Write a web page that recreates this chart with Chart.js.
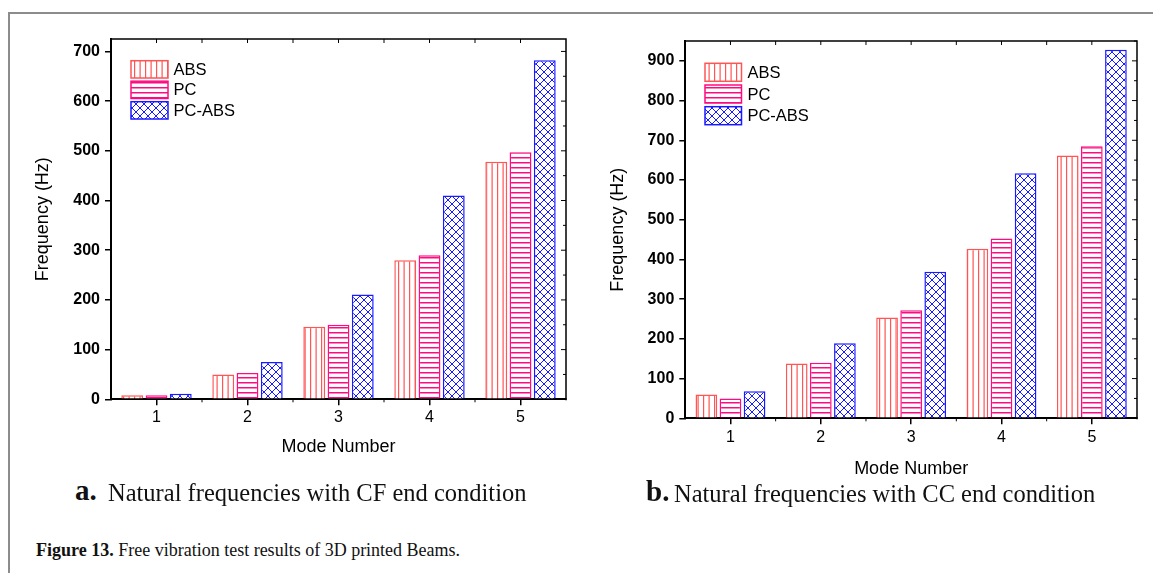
<!DOCTYPE html>
<html><head><meta charset="utf-8">
<script src="https://cdn.jsdelivr.net/npm/chart.js@4.4.0/dist/chart.umd.min.js"></script>
<style>
html,body{margin:0;padding:0;background:#fff;width:1153px;height:573px;overflow:hidden;position:relative;}
#frame{position:absolute;left:8px;top:12px;width:1200px;height:600px;border-top:2px solid #8c8c8c;border-left:2px solid #8c8c8c;}
canvas{position:absolute;}
.cap{position:absolute;font-family:"Liberation Serif","Times New Roman",serif;color:#111;white-space:nowrap;line-height:1;}
</style></head>
<body>
<div id="frame"></div>
<canvas id="c1" width="580" height="470" style="left:0px;top:0px"></canvas>
<canvas id="c2" width="573" height="490" style="left:580px;top:0px"></canvas>
<div class="cap" style="left:75px;top:476px;font-size:29px;font-weight:bold">a.</div>
<div class="cap" style="left:108px;top:480.5px;font-size:24.5px">Natural frequencies with CF end condition</div>
<div class="cap" style="left:646px;top:477px;font-size:29px;font-weight:bold">b.</div>
<div class="cap" style="left:674px;top:481.5px;font-size:24.5px">Natural frequencies with CC end condition</div>
<div class="cap" style="left:36px;top:541px;font-size:18px"><b>Figure 13.</b> Free vibration test results of 3D printed Beams.</div>
<script>
// ---- data ----
const categories = ['1', '2', '3', '4', '5'];
const seriesNames = ['ABS', 'PC', 'PC-ABS'];
const cfABS   = [8, 50, 146, 280, 478];
const cfPC    = [8, 53, 150, 290, 497];
const cfPCABS = [11, 75, 211, 410, 682];
const ccABS   = [60, 138, 254, 427, 662];
const ccPC    = [50, 140, 272, 453, 685];
const ccPCABS = [68, 189, 369, 617, 928];
const yTitle = 'Frequency (Hz)';
const xTitle = 'Mode Number';

// ---- styling ----
const colABS = '#ff5555', colPC = '#ff0a80', colPCABS = '#1a1aff';
const FONT = '"Liberation Sans", Arial, sans-serif';

function makePattern(kind, color) {
  const c = document.createElement('canvas');
  const g = c.getContext('2d');
  if (kind === 'v') {
    c.width = 11; c.height = 4;
    g.fillStyle = '#fff'; g.fillRect(0, 0, 11, 4);
    g.fillStyle = color; g.fillRect(2, 0, 1.2, 4); g.fillRect(7.5, 0, 1.2, 4);
  } else if (kind === 'h') {
    c.width = 4; c.height = 5;
    g.fillStyle = '#fff'; g.fillRect(0, 0, 4, 5);
    g.fillStyle = color; g.fillRect(0, 2, 4, 1.5);
  } else {
    c.width = 8; c.height = 8;
    g.fillStyle = '#fff'; g.fillRect(0, 0, 8, 8);
    g.strokeStyle = color; g.lineWidth = 1;
    g.beginPath();
    g.moveTo(-1, -1); g.lineTo(9, 9);
    g.moveTo(9, -1); g.lineTo(-1, 9);
    g.stroke();
  }
  return g.createPattern(c, 'repeat');
}

function datasets(a, b, c) {
  return [
    {label: seriesNames[0], data: a, backgroundColor: makePattern('v', colABS), borderColor: colABS, borderWidth: 1.5},
    {label: seriesNames[1], data: b, backgroundColor: makePattern('h', colPC), borderColor: colPC, borderWidth: 1.5},
    {label: seriesNames[2], data: c, backgroundColor: makePattern('x', colPCABS), borderColor: colPCABS, borderWidth: 1.5}
  ];
}

function decoPlugin(lg) {
  return {
    id: 'deco',
    afterDraw(chart) {
      const ctx = chart.ctx, a = chart.chartArea, xs = chart.scales.x, ys = chart.scales.y;
      ctx.save();
      ctx.strokeStyle = '#000'; ctx.lineWidth = 1.5;
      ctx.beginPath();
      ctx.moveTo(a.left, a.top); ctx.lineTo(a.right, a.top); ctx.lineTo(a.right, a.bottom + 1);
      ctx.stroke();
      ctx.lineWidth = 1;
      const n = chart.data.labels.length;
      const step = xs.getPixelForValue(1) - xs.getPixelForValue(0);
      ctx.beginPath();
      for (let i = 0; i < n; i++) {
        const c = xs.getPixelForValue(i);
        ctx.moveTo(c, a.top); ctx.lineTo(c, a.top + 4);
        if (i < n - 1) {
          const b = c + step / 2;
          ctx.moveTo(b, a.top); ctx.lineTo(b, a.top + 4);
          ctx.moveTo(b, a.bottom); ctx.lineTo(b, a.bottom + 3);
        }
      }
      for (let v = 0; v <= ys.max; v += 50) {
        const y = ys.getPixelForValue(v);
        ctx.moveTo(a.right, y); ctx.lineTo(a.right - (v % 100 === 0 ? 5 : 3), y);
      }
      ctx.stroke();
      // legend
      ctx.font = '16.5px ' + FONT;
      ctx.textBaseline = 'middle';
      ctx.textAlign = 'left';
      chart.data.datasets.forEach((ds, i) => {
        const y = lg.y0 + i * lg.pitch;
        ctx.fillStyle = ds.backgroundColor;
        ctx.fillRect(lg.x, y, lg.w, lg.h);
        ctx.strokeStyle = ds.borderColor; ctx.lineWidth = 1.5;
        ctx.strokeRect(lg.x, y, lg.w, lg.h);
        ctx.fillStyle = '#000';
        ctx.fillText(ds.label, lg.tx, y + lg.h / 2 + 1);
      });
      ctx.restore();
    }
  };
}

function build(id, ds, cfg) {
  return new Chart(document.getElementById(id), {
    type: 'bar',
    data: {labels: categories, datasets: ds},
    options: {
      responsive: false, animation: false, devicePixelRatio: 1,
      layout: {padding: {top: cfg.top, right: cfg.right, left: 0, bottom: 0}},
      datasets: {bar: {categoryPercentage: 0.8, barPercentage: 0.9}},
      plugins: {legend: {display: false}, tooltip: {enabled: false}},
      scales: {
        x: {
          offset: true,
          grid: {display: true, offset: false, drawOnChartArea: false, drawTicks: true, tickLength: 6, color: '#000', lineWidth: 1.5},
          border: {display: true, color: '#000', width: 2},
          ticks: {font: {family: FONT, size: 16}, color: '#000', padding: cfg.xtp},
          title: {display: true, text: xTitle, font: {family: FONT, size: 18}, color: '#000', padding: {top: 0, bottom: cfg.xttp}},
          afterFit: s => { s.height = cfg.xh; }
        },
        y: {
          min: 0, max: cfg.ymax,
          grid: {display: true, drawOnChartArea: false, drawTicks: true, tickLength: 6, color: '#000', lineWidth: 1.5},
          border: {display: true, color: '#000', width: 2},
          ticks: {stepSize: 100, includeBounds: false, font: {family: FONT, size: 16, weight: 'bold'}, color: '#000', padding: 5},
          afterBuildTicks: s => { s.ticks = s.ticks.filter(t => t.value % 100 === 0); },
          title: {display: true, text: yTitle, font: {family: FONT, size: 18}, color: '#000', padding: {top: cfg.yttp, bottom: 0}},
          afterFit: s => { s.width = cfg.yw; }
        }
      }
    },
    plugins: [decoPlugin(cfg.legend)]
  });
}

build('c1', datasets(cfABS, cfPC, cfPCABS), {
  top: 39, right: 14, ymax: 725, yw: 111, yttp: 32, xh: 70.7, xtp: 2.4, xttp: 12.5,
  legend: {x: 131, y0: 60.7, pitch: 20.5, w: 37, h: 17.3, tx: 173.5}
});
build('c2', datasets(ccABS, ccPC, ccPCABS), {
  top: 41, right: 16, ymax: 950, yw: 105.3, yttp: 27, xh: 71.7, xtp: 3.8, xttp: 10.2,
  legend: {x: 125, y0: 63.3, pitch: 21.7, w: 36.5, h: 18, tx: 167.4}
});
</script>
</body></html>
